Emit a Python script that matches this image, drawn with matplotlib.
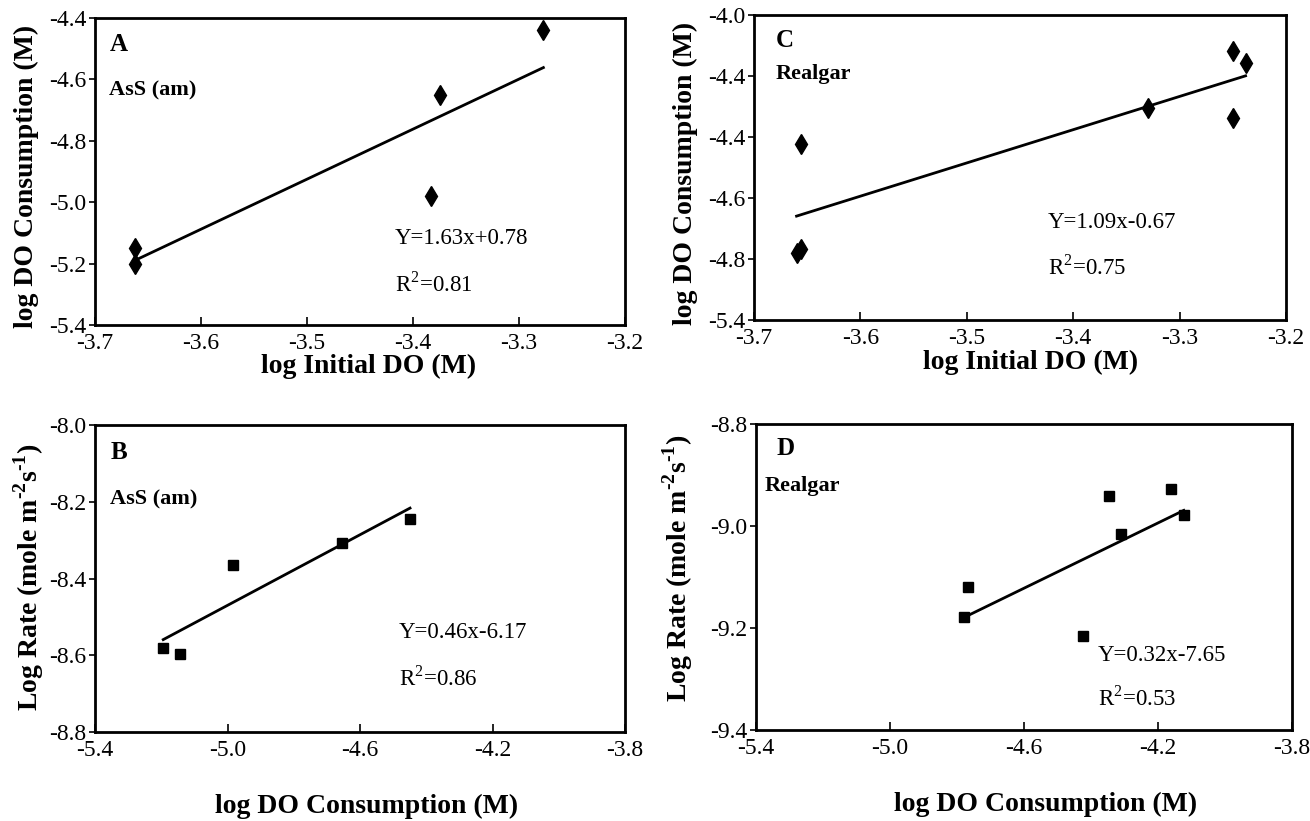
import matplotlib
matplotlib.use("Agg")
import matplotlib.pyplot as plt
from matplotlib.ticker import FixedFormatter

plt.rcParams['font.family'] = ['Liberation Serif', 'DejaVu Serif']
plt.rcParams['mathtext.fontset'] = 'custom'
plt.rcParams['mathtext.rm'] = 'Liberation Serif'
plt.rcParams['mathtext.bf'] = 'Liberation Serif:bold'
plt.rcParams['axes.unicode_minus'] = False

# Panel A: AsS (am), DO consumption vs initial DO
a_x = [-3.662, -3.662, -3.383, -3.375, -3.277]
a_y = [-5.15, -5.20, -4.98, -4.65, -4.44]
a_fit = (1.63, 0.78)

# Panel C: realgar, DO consumption vs initial DO
c_x = [-3.660, -3.656, -3.656, -3.330, -3.250, -3.238, -3.250]
c_y = [-4.781, -4.768, -4.424, -4.306, -4.118, -4.156, -4.339]
c_fit = (1.09, -0.67)
c_ytick_labels = ['-5.4', '-4.8', '-4.6', '-4.4', '-4.4', '-4.0']  # as printed

# Panel B: AsS (am), rate vs DO consumption
b_x = [-5.194, -5.144, -4.984, -4.655, -4.449]
b_y = [-8.582, -8.597, -8.366, -8.308, -8.244]
b_fit = (0.46, -6.17)

# Panel D: realgar, rate vs DO consumption
d_x = [-4.779, -4.768, -4.423, -4.345, -4.309, -4.161, -4.123]
d_y = [-9.178, -9.119, -9.216, -8.941, -9.016, -8.927, -8.979]
d_fit = (0.32, -7.65)

W, H = 1310, 821
fig = plt.figure(figsize=(W / 100, H / 100), dpi=100)


def box(l, t, r, b):
    return [l / W, 1 - b / H, (r - l) / W, (b - t) / H]


axA = fig.add_axes(box(95, 18, 625, 325))
axC = fig.add_axes(box(754, 15, 1286, 320))
axB = fig.add_axes(box(95, 425, 625, 732))
axD = fig.add_axes(box(756, 424, 1292, 730))


def panel(ax, x, y, fit, marker, ms, xlim, ylim, xticks, yticks):
    ax.plot(x, y, linestyle='none', marker=marker, color='black', markersize=ms)
    m, c = fit
    xs = [min(x), max(x)]
    ax.plot(xs, [m * v + c for v in xs], color='black', linewidth=2)
    ax.set_xlim(*xlim)
    ax.set_ylim(*ylim)
    ax.set_xticks(xticks)
    ax.set_yticks(yticks)
    ax.set_xticklabels(['%.1f' % v for v in xticks])
    ax.set_yticklabels(['%.1f' % v for v in yticks])
    ax.tick_params(axis='x', direction='in', length=6, width=1.2, labelsize=17, pad=6)
    ax.tick_params(axis='y', direction='out', length=4, width=1.2, labelsize=17, pad=2)
    for s in ax.spines.values():
        s.set_linewidth(2)


panel(axA, a_x, a_y, a_fit, 'd', 10, (-3.7, -3.2), (-5.4, -4.4),
      [-3.7, -3.6, -3.5, -3.4, -3.3, -3.2], [-5.4, -5.2, -5.0, -4.8, -4.6, -4.4])
panel(axC, c_x, c_y, c_fit, 'd', 10, (-3.7, -3.2), (-5.0, -4.0),
      [-3.7, -3.6, -3.5, -3.4, -3.3, -3.2], [-5.0, -4.8, -4.6, -4.4, -4.2, -4.0])
axC.yaxis.set_major_formatter(FixedFormatter(c_ytick_labels))
panel(axB, b_x, b_y, b_fit, 's', 6.5, (-5.4, -3.8), (-8.8, -8.0),
      [-5.4, -5.0, -4.6, -4.2, -3.8], [-8.8, -8.6, -8.4, -8.2, -8.0])
panel(axD, d_x, d_y, d_fit, 's', 6.5, (-5.4, -3.8), (-9.4, -8.8),
      [-5.4, -5.0, -4.6, -4.2, -3.8], [-9.4, -9.2, -9.0, -8.8])

# axis labels
lab = dict(fontsize=20, fontweight='bold', va='center')
axA.set_xlabel('log Initial DO (M)', **lab)
axA.xaxis.set_label_coords(0.517, -0.135)
axC.set_xlabel('log Initial DO (M)', **lab)
axC.xaxis.set_label_coords(0.52, -0.14)
axB.set_xlabel('log DO Consumption (M)', **lab)
axB.xaxis.set_label_coords(0.513, -0.243)
axD.set_xlabel('log DO Consumption (M)', **lab)
axD.xaxis.set_label_coords(0.54, -0.243)

axA.set_ylabel('log DO Consumption (M)', **lab)
axA.yaxis.set_label_coords(-0.130, 0.485)
axC.set_ylabel('log DO Consumption (M)', **lab)
axC.yaxis.set_label_coords(-0.128, 0.482)
rate_lab = 'Log Rate (mole m$^{\\mathbf{\u20102}}$s$^{\\mathbf{\u20101}}$)'
axB.set_ylabel(rate_lab, **lab)
axB.yaxis.set_label_coords(-0.125, 0.505)
axD.set_ylabel(rate_lab, **lab)
axD.yaxis.set_label_coords(-0.146, 0.53)


# panel letters, mineral names and fit equations
def notes(ax, letter, lpos, name, npos, eq, r2, epos, rpos):
    ax.text(lpos[0], lpos[1], letter, transform=ax.transAxes, fontsize=18,
            fontweight='bold', va='center', ha='left')
    ax.text(npos[0], npos[1], name, transform=ax.transAxes, fontsize=16,
            fontweight='bold', va='center', ha='left')
    ax.text(epos[0], epos[1], eq, transform=ax.transAxes, fontsize=16.5,
            va='center', ha='left')
    ax.text(rpos[0], rpos[1], r2, transform=ax.transAxes, fontsize=16.5,
            va='center', ha='left')


notes(axA, 'A', (0.027, 0.915), 'AsS (am)', (0.027, 0.765),
      'Y=1.63x+0.78', r'R$^2$=0.81', (0.566, 0.281), (0.566, 0.134))
notes(axC, 'C', (0.041, 0.915), 'Realgar', (0.041, 0.806),
      'Y=1.09x-0.67', r'R$^2$=0.75', (0.553, 0.321), (0.553, 0.174))
notes(axB, 'B', (0.029, 0.912), 'AsS (am)', (0.029, 0.758),
      'Y=0.46x-6.17', r'R$^2$=0.86', (0.573, 0.323), (0.573, 0.176))
notes(axD, 'D', (0.038, 0.92), 'Realgar', (0.016, 0.797),
      'Y=0.32x-7.65', r'R$^2$=0.53', (0.638, 0.245), (0.638, 0.105))

fig.savefig('out.png', dpi=100)
